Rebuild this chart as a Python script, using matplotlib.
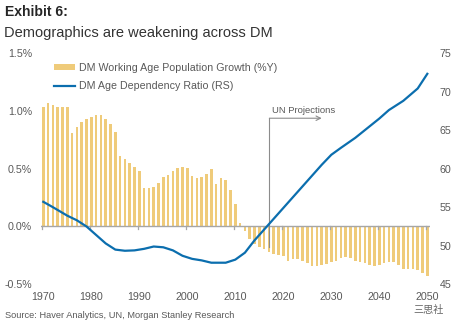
import matplotlib
matplotlib.use("Agg")
import matplotlib.pyplot as plt
from matplotlib.lines import Line2D
from matplotlib.patches import Patch

# ---------------- data ----------------
bar_years = list(range(1970, 2051))
working_age_growth = [
    1.03, 1.07, 1.05, 1.03, 1.03, 1.03, 0.81, 0.86, 0.90, 0.93,
    0.95, 0.96, 0.96, 0.93, 0.885, 0.815, 0.61, 0.58, 0.55, 0.51,
    0.478, 0.333, 0.333, 0.345, 0.38, 0.426, 0.443, 0.478, 0.507, 0.516,
    0.507, 0.435, 0.42, 0.426, 0.458, 0.498, 0.371, 0.42, 0.406, 0.319,
    0.197, 0.032, -0.04, -0.11, -0.15, -0.18, -0.195, -0.225, -0.24, -0.25,
    -0.255, -0.30, -0.283, -0.285, -0.30, -0.316, -0.34, -0.34, -0.33, -0.325,
    -0.31, -0.30, -0.27, -0.26, -0.27, -0.30, -0.31, -0.32, -0.335, -0.343,
    -0.335, -0.32, -0.31, -0.31, -0.33, -0.365, -0.365, -0.37, -0.378, -0.40,
    -0.425,
]

line_years = [1970, 1972, 1975, 1977, 1979, 1981, 1983, 1985, 1987, 1989,
              1991, 1993, 1995, 1997, 1999, 2001, 2003, 2005, 2008, 2010,
              2012, 2014, 2017, 2020, 2023, 2025, 2028, 2030, 2032, 2035,
              2038, 2040, 2042, 2045, 2048, 2050]
dependency_ratio = [55.7, 55.0, 53.9, 53.3, 52.5, 51.4, 50.3, 49.5, 49.35, 49.4,
                    49.6, 49.9, 49.8, 49.4, 48.7, 48.3, 48.1, 47.8, 47.8, 48.2,
                    49.1, 50.7, 52.8, 54.9, 57.0, 58.4, 60.5, 61.8, 62.7, 64.0,
                    65.5, 66.5, 67.6, 68.8, 70.4, 72.3]

x_ticks = [1970, 1980, 1990, 2000, 2010, 2020, 2030, 2040, 2050]
left_ticks = [-0.5, 0.0, 0.5, 1.0, 1.5]
left_labels = ["-0.5%", "0.0%", "0.5%", "1.0%", "1.5%"]
right_ticks = [45, 50, 55, 60, 65, 70, 75]

bar_label = "DM Working Age Population Growth (%Y)"
line_label = "DM Age Dependency Ratio (RS)"

# ---------------- style ----------------
BAR_C = "#EFCB7A"
LINE_C = "#0B6EAE"
TXT_C = "#595959"
AX_C = "#A6A6A6"
FONT = ["Liberation Sans", "DejaVu Sans"]
plt.rcParams["font.family"] = FONT

W, H = 458, 325
fig = plt.figure(figsize=(W / 100, H / 100), dpi=100)
ax_l, ax_r_px, ax_t, ax_b = 40.9, 430.2, 53.0, 284.3
ax = fig.add_axes([ax_l / W, 1 - ax_b / H, (ax_r_px - ax_l) / W, (ax_b - ax_t) / H])

ax.bar(bar_years, working_age_growth, width=0.55, color=BAR_C, zorder=2)
ax.set_xlim(1969.5, 2050.6)
ax.set_ylim(-0.5, 1.5)
ax.set_yticks(left_ticks)
ax.set_yticklabels(left_labels)
for s in ax.spines.values():
    s.set_visible(False)
ax.tick_params(axis="y", length=0, pad=6.5, labelsize=7.7, labelcolor=TXT_C)

# zero axis line with small downward ticks
ax.axhline(0, color=AX_C, lw=1.0, zorder=3)
ax.set_xticks([])
xtr = ax.get_xaxis_transform()
for t in x_ticks:
    ax.plot([t - 0.35, t - 0.35], [0, -0.025], color=AX_C, lw=0.9, zorder=3, clip_on=False)
    ax.text(t, -0.055, str(t), transform=xtr, ha="center", va="center",
            fontsize=7.7, color=TXT_C)

ax2 = ax.twinx()
ax2.plot(line_years, dependency_ratio, color=LINE_C, lw=1.6, zorder=4, clip_on=False,
         solid_joinstyle="round")
ax2.set_ylim(45, 75)
ax2.set_yticks(right_ticks)
for s in ax2.spines.values():
    s.set_visible(False)
ax2.tick_params(axis="y", length=0, pad=7, labelsize=7.7, labelcolor=TXT_C)
ax2.set_xlim(1969.5, 2050.6)

# UN projections annotation
ax.plot([2017.1, 2017.1], [-0.175, 0.936], color="#8C8C8C", lw=0.8, zorder=5)
ax.annotate("", xy=(2028, 0.936), xytext=(2017.1, 0.936),
            arrowprops=dict(arrowstyle="->", color="#8C8C8C", lw=0.8,
                            shrinkA=0, shrinkB=0, mutation_scale=8), zorder=5)
ax.text(2017.7, 1.0, "UN Projections", fontsize=6.8, color=TXT_C, ha="left", va="center")

# legend
handles = [Patch(facecolor=BAR_C, edgecolor="none"),
           Line2D([0], [0], color=LINE_C, lw=1.6)]
leg = ax.legend(handles, [bar_label, line_label], loc="upper left",
                bbox_to_anchor=(54 / W, 1 - 63 / H), bbox_transform=fig.transFigure,
                frameon=False, fontsize=7.7, handlelength=2.0, handleheight=0.55,
                handletextpad=0.3, labelspacing=0.75, borderaxespad=0, borderpad=0)
for t in leg.get_texts():
    t.set_color(TXT_C)

# titles and source
fig.text(5 / W, 1 - 12 / H, "Exhibit 6:", fontsize=10.1, fontweight="bold",
         color="#262626", ha="left", va="center")
fig.text(4 / W, 1 - 33 / H, "Demographics are weakening across DM", fontsize=10.5,
         color="#333333", ha="left", va="center")
fig.text(5 / W, 1 - 316 / H, "Source: Haver Analytics, UN, Morgan Stanley Research",
         fontsize=6.7, color=TXT_C, ha="left", va="center")
fig.text(413 / W, 1 - 310 / H, "三思社", fontsize=7.3, color="#666666", ha="left",
         va="center", family=["Noto Sans CJK SC", "DejaVu Sans"])

fig.savefig("out.png", dpi=100)
